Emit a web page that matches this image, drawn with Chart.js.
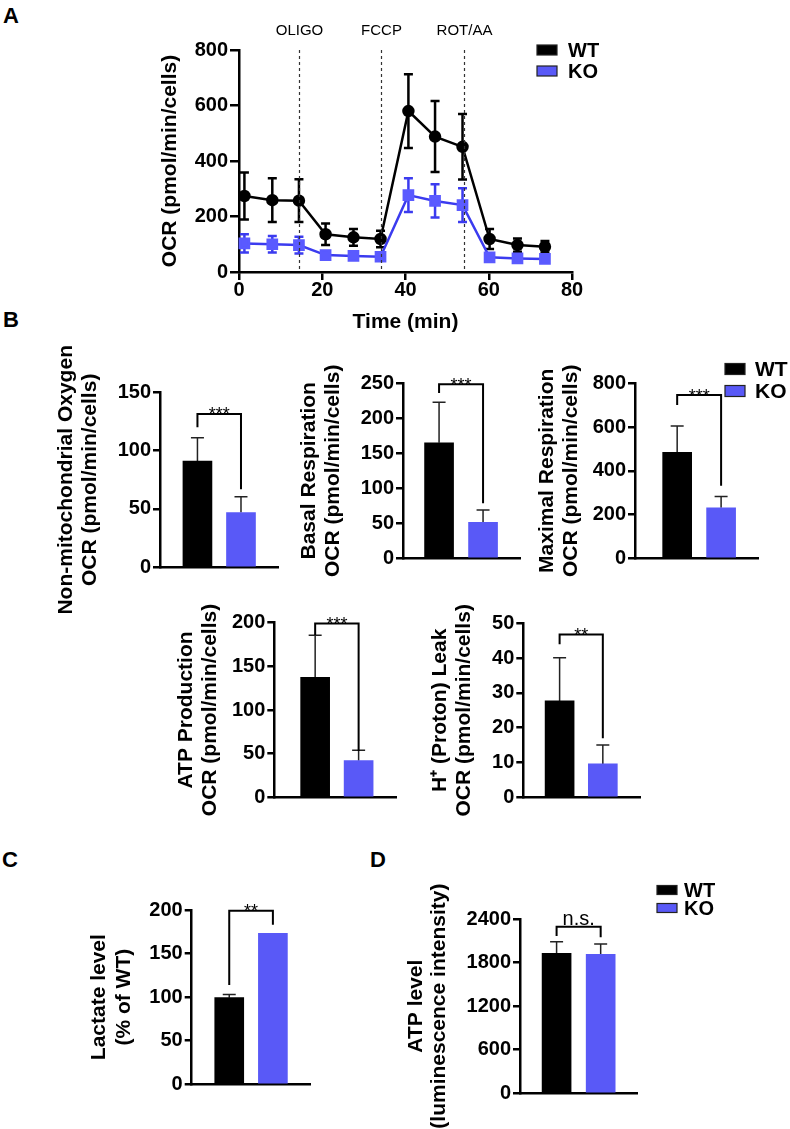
<!DOCTYPE html>
<html>
<head>
<meta charset="utf-8">
<script src="https://cdn.jsdelivr.net/npm/chart.js@4.4.1/dist/chart.umd.min.js"></script>
<style>
  body { margin: 0; background: #fff; width: 790px; height: 1129px; position: relative; overflow: hidden;
         font-family: "Liberation Sans", Arial, sans-serif; }
  canvas { position: absolute; }
  .tag { position: absolute; font-weight: bold; font-size: 22px; line-height: 22px; }
</style>
</head>
<body>
<div class="tag" style="left:3px;top:5px">A</div>
<div class="tag" style="left:3px;top:309px">B</div>
<div class="tag" style="left:2px;top:849px">C</div>
<div class="tag" style="left:370px;top:849px">D</div>

<canvas id="ocr"></canvas>
<canvas id="nonMito"></canvas>
<canvas id="basal"></canvas>
<canvas id="maximal"></canvas>
<canvas id="atpProd"></canvas>
<canvas id="leak"></canvas>
<canvas id="lactate"></canvas>
<canvas id="atpLevel"></canvas>

<script>
// ---- data ----
const groups = ['WT', 'KO'];

// A: Seahorse OCR trace
const ocrTime  = [1.3, 8, 14.4, 20.8, 27.5, 34, 40.7, 47.1, 53.7, 60.2, 66.9, 73.5];
const ocrWT    = [274, 259, 257, 136, 125, 119, 580, 488, 451, 119, 97, 91];
const ocrWTErr = [85, 79, 77, 39, 30, 30, 133, 128, 118, 36, 24, 21];
const ocrKO    = [103, 100, 97, 61, 58, 55, 277, 256, 241, 53, 49, 47];
const ocrKOErr = [33, 30, 30, 10, 8, 8, 61, 60, 61, 6, 5, 5];
const ocrTicks = [0, 200, 400, 600, 800];
const timeTicks = [0, 20, 40, 60, 80];
const injTimes  = [14.4, 34, 54.1];
const injLabels = ['OLIGO', 'FCCP', 'ROT/AA'];

// B-D: bar panels, [WT, KO]; sig = [bracket top, WT leg end, KO leg end]
const nonMito = [91, 47],      nonMitoErr = [20, 13.5],   nonMitoSig = [131.5, 120, 67];
const basal = [165, 51.5],     basalErr = [58, 17.5],     basalSig = [248.6, 236, 78.5];
const maximal = [485, 231],    maximalErr = [120, 51],    maximalSig = [746, 701, 332];
const atpProd = [137.5, 42],   atpProdErr = [48, 12],     atpProdSig = [199, 186, 53];
const leak = [27.7, 9.6],      leakErr = [12.4, 5.4],     leakSig = [46.8, 44, 17];
const lactate = [99.4, 173.3], lactateErr = [3.6, 0],     lactateSig = [199, 114, 183];
const atpLevel = [1927, 1914], atpLevelErr = [160, 142],  atpLevelSig = [2294, 2166, 2148];

const nonMitoTicks = [0, 50, 100, 150];
const basalTicks = [0, 50, 100, 150, 200, 250];
const maximalTicks = [0, 200, 400, 600, 800];
const atpProdTicks = [0, 50, 100, 150, 200];
const leakTicks = [0, 10, 20, 30, 40, 50];
const lactateTicks = [0, 50, 100, 150, 200];
const atpLevelTicks = [0, 600, 1200, 1800, 2400];

// ---- styling ----
const FONT = '"Liberation Sans", Arial, sans-serif';
Chart.defaults.font.family = FONT;
const barColors = ['#000000', '#5959f7'];
const tickFont = {size: 20, weight: 'bold'};

// error bars, drawn under the markers
const errorBarPlugin = {
  id: 'errorBars',
  beforeDatasetsDraw(chart) {
    const ctx = chart.ctx, y = chart.scales.y;
    chart.data.datasets.forEach((ds, i) => {
      if (!ds.errors) return;
      const meta = chart.getDatasetMeta(i);
      ctx.save();
      ctx.strokeStyle = ds.errorColor;
      ctx.lineWidth = ds.errorWidth;
      meta.data.forEach((el, j) => {
        const e = ds.errors[j];
        if (!e) return;
        const v = ds.data[j].y;
        const top = y.getPixelForValue(v + e);
        const bot = ds.errorBoth ? y.getPixelForValue(v - e) : el.y;
        const c = ds.errorCap;
        ctx.beginPath();
        ctx.moveTo(el.x, bot); ctx.lineTo(el.x, top);
        ctx.moveTo(el.x - c, top); ctx.lineTo(el.x + c, top);
        if (ds.errorBoth) { ctx.moveTo(el.x - c, bot); ctx.lineTo(el.x + c, bot); }
        ctx.stroke();
      });
      ctx.restore();
    });
  }
};

// significance bracket between the two bars
const bracketPlugin = {
  id: 'bracket',
  afterDraw(chart, args, o) {
    if (!o.values) return;
    const {ctx, scales: {x, y}} = chart;
    const [top, l, r] = o.values.map(v => y.getPixelForValue(v));
    const x0 = x.getPixelForValue(0), x1 = x.getPixelForValue(1);
    ctx.save();
    ctx.strokeStyle = '#000';
    ctx.lineWidth = 2;
    ctx.beginPath();
    ctx.moveTo(x0, l); ctx.lineTo(x0, top); ctx.lineTo(x1, top); ctx.lineTo(x1, r);
    ctx.stroke();
    ctx.fillStyle = '#000';
    ctx.font = o.font;
    ctx.textAlign = 'center';
    ctx.textBaseline = 'alphabetic';
    ctx.fillText(o.label, (x0 + x1) / 2, top + o.shift);
    ctx.restore();
  }
};

// Prism-like legend: filled boxes with bold labels
const legendPlugin = {
  id: 'boxLegend',
  afterDraw(chart, args, o) {
    if (o.x === undefined) return;
    const ctx = chart.ctx;
    ctx.save();
    ctx.font = 'bold ' + o.size + 'px ' + FONT;
    ctx.textBaseline = 'middle';
    groups.forEach((g, i) => {
      const cy = o.y + i * o.dy;
      ctx.fillStyle = barColors[i];
      ctx.fillRect(o.x, cy - o.bh / 2, o.bw, o.bh);
      ctx.strokeStyle = '#222';
      ctx.lineWidth = 1.2;
      ctx.strokeRect(o.x, cy - o.bh / 2, o.bw, o.bh);
      ctx.fillStyle = '#000';
      ctx.fillText(g, o.x + o.bw + o.gap, cy + 1);
    });
    ctx.restore();
  }
};

// injection markers for panel A
const injectionPlugin = {
  id: 'injections',
  afterDraw(chart) {
    const {ctx, chartArea, scales: {x}} = chart;
    ctx.save();
    ctx.strokeStyle = '#333';
    ctx.lineWidth = 1.2;
    ctx.setLineDash([3, 3]);
    ctx.font = '15px ' + FONT;
    ctx.fillStyle = '#000';
    ctx.textAlign = 'center';
    ctx.textBaseline = 'middle';
    injTimes.forEach((t, i) => {
      const px = Math.round(x.getPixelForValue(t)) + 0.5;
      ctx.beginPath();
      ctx.moveTo(px, chartArea.top);
      ctx.lineTo(px, chartArea.bottom);
      ctx.stroke();
      ctx.fillText(injLabels[i], px, chartArea.top - 19);
    });
    ctx.restore();
  }
};

function place(cv, left, top, w, h) {
  cv.width = w; cv.height = h;
  cv.style.left = left + 'px'; cv.style.top = top + 'px';
  cv.style.width = w + 'px'; cv.style.height = h + 'px';
}

function yAxis(ticks, title, size, lh, titlePad, width, tickLen) {
  return {
    min: 0, max: ticks[ticks.length - 1],
    ticks: {stepSize: ticks[1] - ticks[0], font: tickFont, color: '#000', padding: 2,
            callback: v => String(v)},
    grid: {drawOnChartArea: false, color: '#000', lineWidth: 2.5, tickLength: tickLen},
    border: {color: '#000', width: 2.5},
    title: {display: true, text: title, color: '#000',
            font: {size: size, weight: 'bold', lineHeight: lh / size},
            padding: {top: titlePad, bottom: 0}},
    afterFit: s => { s.width = width; }
  };
}

// p.area = [left, top, right, bottom] of the plot area in page pixels
function barPanel(id, p) {
  const [l, t, r, b] = p.area;
  const lh = p.lineH || 24, size = 21;
  const left = Math.round(p.titleX - 25);
  const top = Math.round(t - 60);
  const padR = p.padRight || 15, padB = 60;
  const w = Math.round(r + padR - left);
  const h = Math.round(b - top + padB + 2);
  const cv = document.getElementById(id);
  place(cv, left, top, w, h);
  const legend = p.legend ? Object.assign({}, p.legend, {x: p.legend.x - left, y: p.legend.y - top}) : {};
  new Chart(cv, {
    type: 'bar',
    data: {
      datasets: [{
        data: p.means.map((v, i) => ({x: i, y: v})),
        backgroundColor: barColors,
        borderWidth: 0,
        barThickness: 29,
        errors: p.errs, errorCap: 6.5, errorColor: '#222', errorWidth: 1.5
      }]
    },
    options: {
      responsive: false, animation: false, devicePixelRatio: 1,
      layout: {padding: {top: t - top, left: 0, right: w - (r - left), bottom: h - (b - top) - 2}},
      plugins: {
        legend: {display: false}, tooltip: {enabled: false},
        bracket: {values: p.sig, label: p.label, font: p.labelFont, shift: p.shift},
        boxLegend: legend
      },
      scales: {
        x: {type: 'linear', offset: false, min: p.xr[0], max: p.xr[1],
            ticks: {display: false}, grid: {display: false},
            border: {color: '#000', width: 2.5},
            afterFit: s => { s.height = 2; }},
        y: yAxis(p.ticks, p.title, size, lh, (p.titleX - left) - lh / 2, l - left, 7)
      }
    },
    plugins: [errorBarPlugin, bracketPlugin, legendPlugin]
  });
}

// ---- panel A ----
(function () {
  const area = [239, 50, 572, 272];
  const titleX = 170.5, lh = 25, left = Math.round(titleX - 25), top = 5;
  const w = 640 - left, xAxisH = 62.5, h = Math.round(area[3] + xAxisH + 4 - top);
  const cv = document.getElementById('ocr');
  place(cv, left, top, w, h);
  new Chart(cv, {
    type: 'line',
    data: {
      datasets: [
        {label: groups[0], data: ocrTime.map((t, i) => ({x: t, y: ocrWT[i]})),
         borderColor: '#000', backgroundColor: '#000', borderWidth: 2.5,
         pointStyle: 'circle', pointRadius: 5, pointBackgroundColor: '#000', pointBorderColor: '#000',
         clip: false, errors: ocrWTErr, errorBoth: true, errorCap: 4.5, errorColor: '#000', errorWidth: 2.5},
        {label: groups[1], data: ocrTime.map((t, i) => ({x: t, y: ocrKO[i]})),
         borderColor: '#3b3bef', backgroundColor: '#5a5aff', borderWidth: 2.5,
         pointStyle: 'rect', pointRadius: 6.5, pointBackgroundColor: '#5a5aff', pointBorderColor: '#5a5aff',
         clip: false, errors: ocrKOErr, errorBoth: true, errorCap: 4.5, errorColor: '#3b3bef', errorWidth: 2.5}
      ]
    },
    options: {
      responsive: false, animation: false, devicePixelRatio: 1,
      layout: {padding: {top: area[1] - top, left: 0, right: w - (area[2] - left), bottom: h - (area[3] - top) - xAxisH}},
      plugins: {
        legend: {display: false}, tooltip: {enabled: false},
        boxLegend: {x: 537 - left, y: 50 - top, dy: 21, bw: 20, bh: 10, gap: 11, size: 20}
      },
      scales: {
        x: {type: 'linear', min: timeTicks[0], max: timeTicks[timeTicks.length - 1],
            ticks: {stepSize: timeTicks[1] - timeTicks[0], font: tickFont, color: '#000', padding: -2},
            grid: {drawOnChartArea: false, color: '#000', lineWidth: 2.5, tickLength: 8},
            border: {color: '#000', width: 2.5},
            title: {display: true, text: 'Time (min)', color: '#000',
                    font: {size: 21, weight: 'bold', lineHeight: 1.2}, padding: {top: 0, bottom: 0}},
            afterFit: s => { s.height = xAxisH; }},
        y: yAxis(ocrTicks, 'OCR (pmol/min/cells)', 21, lh, (titleX - left) - lh / 2, area[0] - left, 9)
      }
    },
    plugins: [errorBarPlugin, injectionPlugin, legendPlugin]
  });
})();

// ---- panel B ----
const stars = '18px ' + FONT;
barPanel('nonMito', {area: [160, 392.3, 278, 567.3], titleX: 66, xr: [-0.86, 1.85],
  title: ['Non-mitochondrial Oxygen', 'OCR (pmol/min/cells)'], ticks: nonMitoTicks,
  means: nonMito, errs: nonMitoErr, sig: nonMitoSig, label: '***', labelFont: stars, shift: 6.5});
barPanel('basal', {area: [403, 383.3, 520, 558.3], titleX: 309, xr: [-0.82, 1.84],
  title: ['Basal Respiration', 'OCR (pmol/min/cells)'], ticks: basalTicks,
  means: basal, errs: basalErr, sig: basalSig, label: '***', labelFont: stars, shift: 6.5});
barPanel('maximal', {area: [635, 383.3, 758, 558.3], titleX: 547.5, xr: [-0.96, 1.84], padRight: 32,
  title: ['Maximal Respiration', 'OCR (pmol/min/cells)'], ticks: maximalTicks,
  means: maximal, errs: maximalErr, sig: maximalSig, label: '***', labelFont: stars, shift: 6.5,
  legend: {x: 725, y: 369, dy: 22, bw: 20, bh: 11, gap: 10, size: 21}});
barPanel('atpProd', {area: [274.3, 622.7, 396, 797.3], titleX: 186, xr: [-0.94, 1.86],
  title: ['ATP Production', 'OCR (pmol/min/cells)'], ticks: atpProdTicks,
  means: atpProd, errs: atpProdErr, sig: atpProdSig, label: '***', labelFont: stars, shift: 6.5});
barPanel('leak', {area: [523.3, 623.3, 640, 797.3], titleX: 440.7, xr: [-0.84, 1.86],
  title: ['H\u207A (Proton) Leak', 'OCR (pmol/min/cells)'], ticks: leakTicks,
  means: leak, errs: leakErr, sig: leakSig, label: '**', labelFont: stars, shift: 6.5});

// ---- panels C and D ----
barPanel('lactate', {area: [191.7, 910, 310, 1084.3], titleX: 99, lineH: 25, xr: [-0.86, 1.85],
  title: ['Lactate level', '(% of WT)'], ticks: lactateTicks,
  means: lactate, errs: lactateErr, sig: lactateSig, label: '**', labelFont: stars, shift: 6.5});
barPanel('atpLevel', {area: [520, 919, 637.7, 1093.3], titleX: 415.8, lineH: 23, xr: [-0.83, 1.84], padRight: 85,
  title: ['ATP level', '(luminescence intensity)'], ticks: atpLevelTicks,
  means: atpLevel, errs: atpLevelErr, sig: atpLevelSig, label: 'n.s.', labelFont: '20px ' + FONT, shift: -2,
  legend: {x: 657, y: 890, dy: 18, bw: 20, bh: 9, gap: 7, size: 20}});
</script>
</body>
</html>
